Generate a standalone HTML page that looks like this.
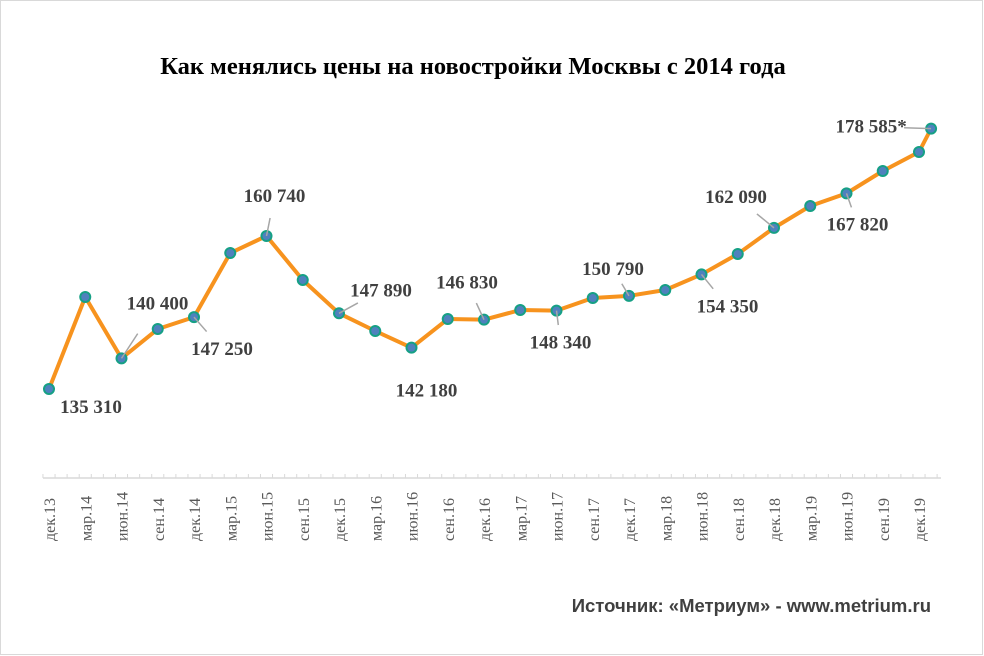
<!DOCTYPE html>
<html><head><meta charset="utf-8"><style>
body{margin:0;background:#fff}
svg{display:block;font-family:"Liberation Serif",serif}
</style></head><body>
<svg width="984" height="656" viewBox="0 0 984 656">
<rect x="0.5" y="0.5" width="982" height="654" fill="#fff" stroke="#d9d9d9"/>
<text x="473" y="74" text-anchor="middle" font-size="24.5" font-weight="bold" fill="#000">Как менялись цены на новостройки  Москвы с 2014 года</text>
<text x="931" y="612" text-anchor="end" font-family="Liberation Sans, sans-serif" font-size="18.5" font-weight="bold" fill="#404040">Источник: «Метриум» - www.metrium.ru</text>
<g id="axis"></g><g id="series"></g><g id="labels"></g>
</svg>
<script>
const categories=["дек.13","мар.14","июн.14","сен.14","дек.14","мар.15","июн.15","сен.15","дек.15","мар.16","июн.16","сен.16","дек.16","мар.17","июн.17","сен.17","дек.17","мар.18","июн.18","сен.18","дек.18","мар.19","июн.19","сен.19","дек.19"];
const months=[0,3,6,9,12,15,18,21,24,27,30,33,36,39,42,45,48,51,54,57,60,63,66,69,72,73];
const values=[135310,150600,140400,145280,147250,157910,160740,153430,147890,144950,142180,146940,146830,148440,148340,150430,150790,151760,154350,157750,162090,165720,167820,171540,174700,178585];
const labeledIdx=[0,2,4,6,8,10,12,14,16,18,20,22,25];
const labelTexts=["135 310","140 400","147 250","160 740","147 890","142 180","146 830","148 340","150 790","154 350","162 090","167 820","178 585*"];
const NS="http://www.w3.org/2000/svg";
function x(m){return 49+m*(870/72);}
function y(v){return 389-(v-135310)*0.006017;}
function mk(tag,attrs,parent){const e=document.createElementNS(NS,tag);for(const k in attrs)e.setAttribute(k,attrs[k]);parent.appendChild(e);return e;}
const ax=document.getElementById('axis'),se=document.getElementById('series'),lb=document.getElementById('labels');
const al=mk('line',{x1:43,x2:941,y1:478,y2:478,stroke:'#d9d9d9','stroke-width':1.5},ax);


for(let m=-0.5;m<=74;m+=1){const t=mk('line',{x1:x(m),x2:x(m),y1:474,y2:478,stroke:'#d9d9d9'},ax);

}
categories.forEach((c,i)=>{const cx=x(i*3)+6;const t=mk('text',{transform:`translate(${cx},541) rotate(-90)`,'font-size':16,fill:'#595959'},ax);t.textContent=c;

});
const pl=mk('polyline',{points:values.map((v,i)=>x(months[i])+','+y(v)).join(' '),fill:'none',stroke:'#f7931e','stroke-width':4,'stroke-linejoin':'round'},se);


values.forEach((v,i)=>{const c=mk('circle',{cx:x(months[i]),cy:y(v),r:5,fill:'#4f81bd',stroke:'#16a085','stroke-width':2},se);

});
const offs=[[42,18,0],[36,-55,1],[28,32,1],[8,-40,1],[42,-23,1],[15,43,0],[-17,-37,1],[4,32,1],[-16,-27,1],[26,32,1],[-38,-31,1],[11,31,1],[-60,-2,1]];
labelTexts.forEach((s,k)=>{const i=labeledIdx[k];const px=x(months[i]),py=y(values[i]);const[dx,dy,lead]=offs[k];
if(lead){const ln=mk('line',{x1:px,y1:py,x2:px+dx*0.45,y2:py+dy*0.45,stroke:'#a6a6a6','stroke-width':1.5},lb);

}
const t=mk('text',{x:px+dx,y:py+dy+6,'text-anchor':'middle','font-size':19,'font-weight':'bold',fill:'#404040'},lb);t.textContent=s;

});
</script>
</body></html>
